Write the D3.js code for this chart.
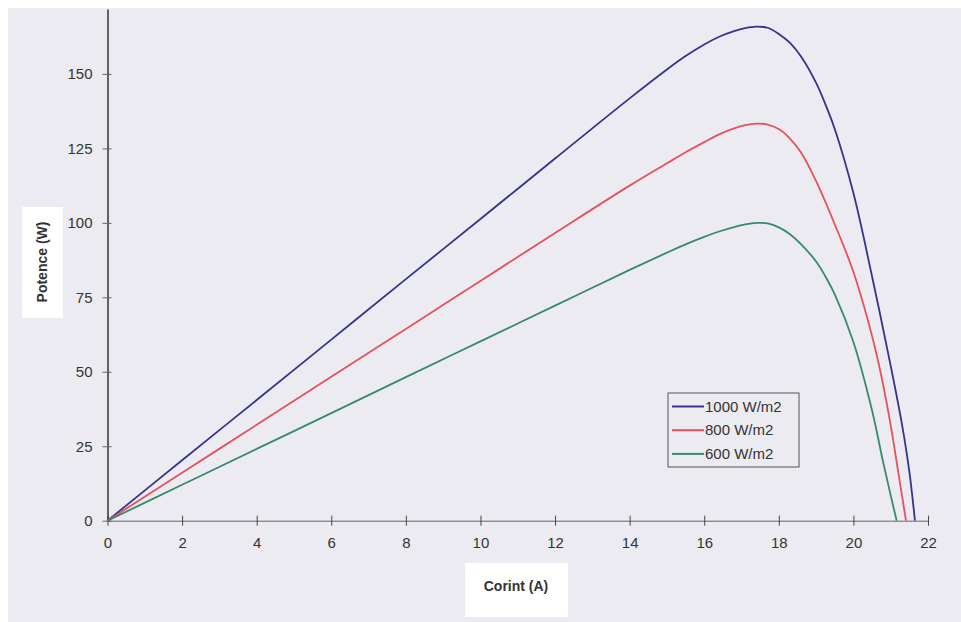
<!DOCTYPE html>
<html>
<head>
<meta charset="utf-8">
<script src="https://cdn.jsdelivr.net/npm/d3@7"></script>
<style>
  body { margin: 0; background: #fff; }
  svg text { font-family: Arial, "Liberation Sans", sans-serif; fill: #333; }
</style>
</head>
<body>
<div id="chart"></div>
<script>
// courant (A) / puissance (W)
var current1000 = [0, 2, 4, 6, 8, 10, 12, 14, 15, 15.5, 16, 16.4, 16.8, 17.1, 17.4, 17.7, 18, 18.3, 18.6, 19, 19.25, 19.5, 20, 20.5, 21, 21.3, 21.5, 21.65];
var power1000   = [0, 20.3, 40.5, 60.8, 81.1, 101.3, 121.6, 141.8, 151.5, 156, 159.9, 162.5, 164.4, 165.4, 165.9, 165.5, 163.4, 160.4, 155.8, 147, 139.8, 131.5, 110, 82, 52, 32.5, 16.5, 0];

var current800 = [0, 2, 4, 6, 8, 10, 12, 14, 15, 15.5, 16, 16.4, 16.8, 17.1, 17.4, 17.7, 18, 18.3, 18.6, 19, 19.5, 20, 20.5, 20.75, 21, 21.2, 21.41];
var power800   = [0, 16.1, 32.2, 48.3, 64.4, 80.5, 96.6, 112.5, 120, 123.7, 127.1, 129.7, 131.7, 132.8, 133.3, 133, 131.5, 128.3, 123.5, 114, 99.5, 83.5, 62, 48.5, 32, 16.5, 0];

var current600 = [0, 2, 4, 6, 8, 10, 12, 14, 15, 15.5, 16, 16.4, 16.8, 17.1, 17.4, 17.7, 18, 18.3, 18.6, 19, 19.25, 19.5, 20, 20.5, 20.8, 21, 21.16];
var power600   = [0, 12.05, 24.1, 36.1, 48.2, 60.2, 72.2, 84.2, 90, 92.8, 95.3, 97.1, 98.6, 99.5, 100, 99.8, 98.5, 96.2, 92.8, 87, 82, 76, 60, 37, 19.5, 8.5, 0];

var seriesNames = ["1000 W/m2", "800 W/m2", "600 W/m2"];
var colors = ["#34348f", "#e5525e", "#378a6c"];

var xTicks = [0, 2, 4, 6, 8, 10, 12, 14, 16, 18, 20, 22];
var yTicks = [0, 25, 50, 75, 100, 125, 150];

var width = 961, height = 622;
var x0 = 107.5, x1 = 928, y0 = 520.7, y1 = 9;

var svg = d3.select("#chart").append("svg")
  .attr("width", width)
  .attr("height", height);

// scanned paper background
svg.append("rect")
  .attr("x", 8).attr("y", 8)
  .attr("width", width - 8).attr("height", height - 8)
  .attr("fill", "#ecebf2");

var x = d3.scaleLinear().domain([0, 22]).range([x0, x1]);
var y = d3.scaleLinear().domain([0, 171.8]).range([y0, y1]);

// axes
var xAxis = svg.append("g")
  .attr("transform", "translate(0," + y0 + ")")
  .call(d3.axisBottom(x).tickValues(xTicks).tickSize(5).tickPadding(12).tickSizeOuter(0));
xAxis.selectAll(".tick line").attr("y1", -5).attr("stroke", "#444");
xAxis.select(".domain").attr("stroke", "#666");
xAxis.selectAll("text").attr("font-size", "15px").attr("fill", "#2a2a2a");

var yAxis = svg.append("g")
  .attr("transform", "translate(" + x0 + ",0)")
  .call(d3.axisLeft(y).tickValues(yTicks).tickSize(5).tickPadding(10).tickSizeOuter(0));
yAxis.selectAll(".tick line").attr("x1", 4).attr("stroke", "#666");
yAxis.select(".domain").attr("stroke", "#333").attr("stroke-width", 1.5);
yAxis.selectAll("text").attr("font-size", "15px").attr("fill", "#2a2a2a");

// curves
var line = d3.line()
  .x(function(d) { return x(d[0]); })
  .y(function(d) { return y(d[1]); })
  .curve(d3.curveCatmullRom.alpha(0.5));

var series = [
  d3.zip(current1000, power1000),
  d3.zip(current800, power800),
  d3.zip(current600, power600)
];

svg.selectAll(".curve")
  .data(series)
  .enter().append("path")
  .attr("class", "curve")
  .attr("d", line)
  .attr("fill", "none")
  .attr("stroke", function(d, i) { return colors[i]; })
  .attr("stroke-width", 1.8);

// axis titles in white boxes
svg.append("rect")
  .attr("x", 22).attr("y", 207).attr("width", 41).attr("height", 111)
  .attr("fill", "#fff");
svg.append("text")
  .attr("transform", "translate(47,262) rotate(-90)")
  .attr("text-anchor", "middle")
  .attr("font-size", "14px")
  .attr("font-weight", "bold")
  .attr("fill", "#111")
  .text("Potence (W)");

svg.append("rect")
  .attr("x", 465).attr("y", 563).attr("width", 103).attr("height", 54)
  .attr("fill", "#fff");
svg.append("text")
  .attr("x", 516).attr("y", 591)
  .attr("text-anchor", "middle")
  .attr("font-size", "14px")
  .attr("font-weight", "bold")
  .attr("fill", "#111")
  .text("Corint (A)");

// legend
var legend = svg.append("g").attr("transform", "translate(668,393)");
legend.append("rect")
  .attr("width", 131).attr("height", 74)
  .attr("fill", "#ecebf2")
  .attr("stroke", "#555");

var item = legend.selectAll(".item")
  .data(seriesNames)
  .enter().append("g")
  .attr("class", "item")
  .attr("transform", function(d, i) { return "translate(0," + (13.5 + i * 23.7) + ")"; });

item.append("line")
  .attr("x1", 4).attr("x2", 36)
  .attr("stroke", function(d, i) { return colors[i]; })
  .attr("stroke-width", 2);

item.append("text")
  .attr("x", 37).attr("dy", "0.35em")
  .attr("font-size", "15px")
  .attr("fill", "#222")
  .text(function(d) { return d; });
</script>
</body>
</html>
